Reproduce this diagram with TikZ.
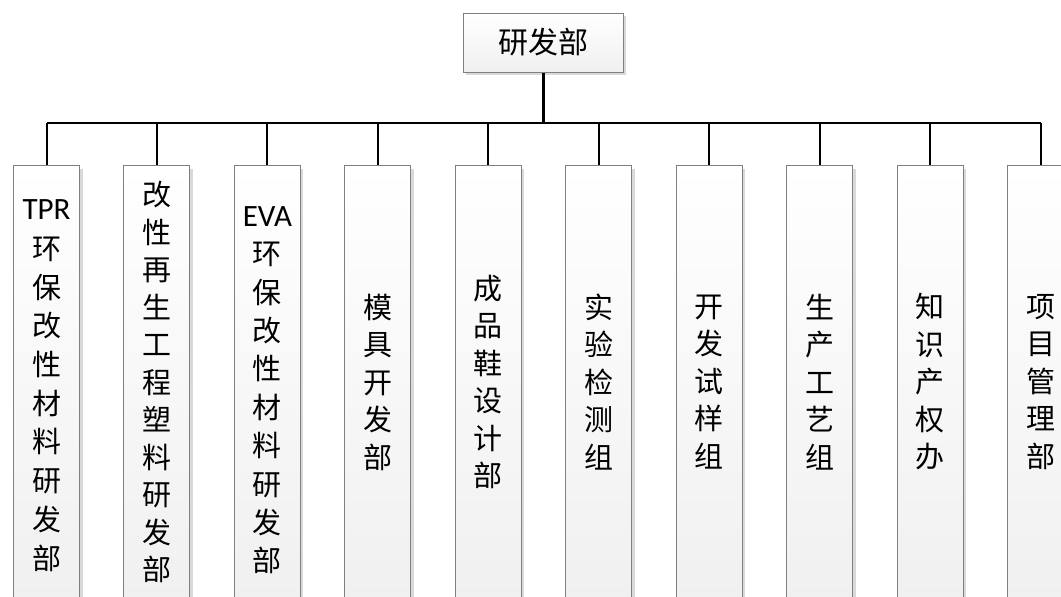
\documentclass[tikz,border=0pt]{standalone}
\usepackage{fontspec}
\setmainfont{Carlito}
\newfontfamily\cjk{Noto Sans CJK SC}
\newfontfamily\lat{Carlito}
\usetikzlibrary{shadows}
\tikzset{
  boxshade/.style={draw=gray, line width=1pt, top color=white, bottom color=gray!12,
    drop shadow={shadow xshift=3pt, shadow yshift=-3pt, fill=gray!30, opacity=1}},
  deptbox/.style={boxshade, minimum width=66pt, minimum height=445pt, anchor=north, inner sep=0pt},
  topbox/.style={boxshade, minimum width=160pt, minimum height=59pt, inner sep=0pt,
    font=\cjk\fontsize{30}{36}\selectfont},
  depttext/.style={align=center, inner sep=0pt},
  conn/.style={draw=black, line width=2pt},
  stem/.style={draw=black, line width=3pt}
}
\newcommand{\latline}[1]{{\lat\fontsize{31}{31}\selectfont #1}\vphantom{环}}
\begin{document}
\begin{tikzpicture}[x=1pt,y=-1pt]
\useasboundingbox (0,0) rectangle (1061,597);
\node[topbox] (top) at (543,42.5) {研发部};
\coordinate (bus) at (543,123);
\foreach \i/\s/\y/\t in {
  1/38.7/219/{\latline{TPR}\\[1.5pt]环\\保\\改\\性\\材\\料\\研\\发\\部},
  2/37.5/217/{改\\性\\再\\生\\工\\程\\塑\\料\\研\\发\\部},
  3/38.4/224/{\latline{EVA}\\环\\保\\改\\性\\材\\料\\研\\发\\部},
  4/37.5/217/{模\\具\\开\\发\\部},
  5/37.5/217/{成\\品\\鞋\\设\\计\\部},
  6/37.5/217/{实\\验\\检\\测\\组},
  7/37.5/217/{开\\发\\试\\样\\组},
  8/37.5/217/{生\\产\\工\\艺\\组},
  9/37.5/217/{知\\识\\产\\权\\办},
  10/37.5/217/{项\\目\\管\\理\\部}} {
  \node[deptbox] (b\i) at ({46.5+110.45*(\i-1)},165) {};
  \node[depttext, font=\cjk\fontsize{29}{\s}\selectfont] (t\i) at ([yshift=-\y pt]b\i.north) {\t};
}
\draw[stem] (top.south) -- (bus);
\draw[conn] (b1.north |- bus) -- (b10.north |- bus);
\foreach \i in {1,...,10} {
  \draw[conn] (b\i.north |- bus) -- (b\i.north);
}
\end{tikzpicture}
\end{document}
